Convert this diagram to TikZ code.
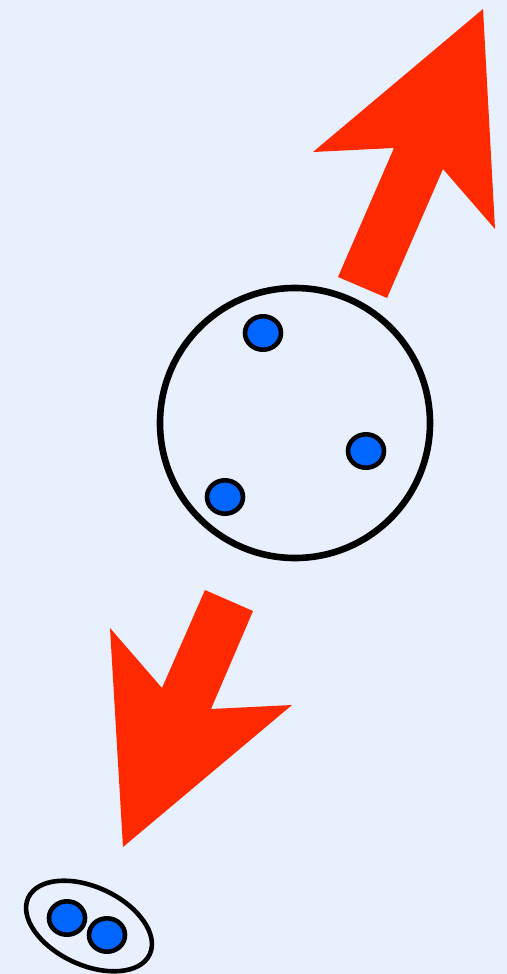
\documentclass[tikz,border=0pt]{standalone}
\usepackage{tikz}
\usetikzlibrary{shapes.geometric}
\definecolor{bgblue}{RGB}{232,240,253}
\definecolor{arrowred}{RGB}{255,41,0}
\definecolor{dotblue}{RGB}{0,102,255}

\begin{document}
\begin{tikzpicture}[x=0.5pt, y=-0.5pt,
    particle/.style={ellipse, draw=black, line width=2.3pt, fill=dotblue,
      inner sep=0pt, minimum width=18pt, minimum height=16.7pt},
    cluster/.style={circle, draw=black, line width=3.3pt, inner sep=0pt,
      minimum size=135pt},
    pair/.style={ellipse, draw=black, line width=2.3pt, inner sep=0pt,
      minimum width=67pt, minimum height=39pt, rotate=-25},
    big arrow/.style={fill=arrowred}]
    % background
    \fill[bgblue] (0,0) rectangle (507,974);
    \useasboundingbox (0,0) rectangle (507,974);

    % outgoing arrow (up-right)
    \fill[big arrow] (338,277) -- (394,148) -- (313,152) -- (483,9)
      -- (495,229) -- (443,169) -- (387,298) -- cycle;

    % cluster with three particles
    \node[cluster] (nucleus) at (295,423) {};
    \node[particle] (p1) at (263,333) {};
    \node[particle] (p2) at (366,451) {};
    \node[particle] (p3) at (225,497) {};

    % outgoing arrow (down-left)
    \fill[big arrow] (205,590) -- (162,688) -- (110,628) -- (123,847)
      -- (292,705) -- (211,709) -- (253,611) -- cycle;

    % bound pair
    \node[pair] (fragment) at (89,926) {};
    \node[particle] (q1) at (67,918) {};
    \node[particle] (q2) at (107,935) {};
\end{tikzpicture}
\end{document}
